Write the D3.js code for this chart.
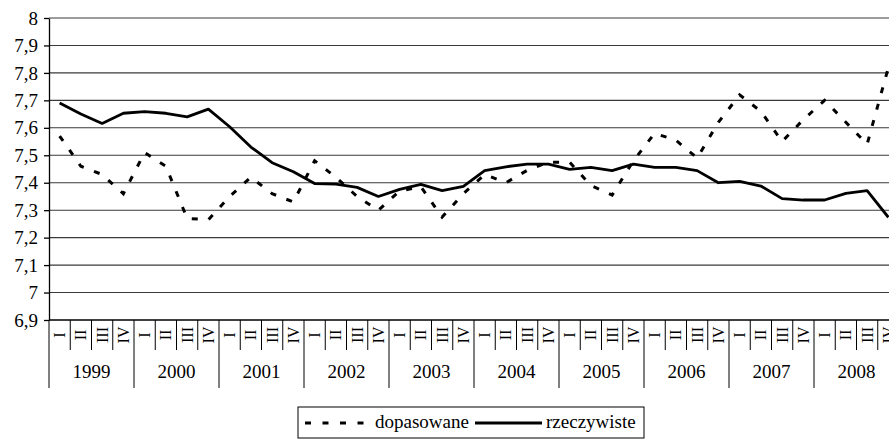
<!DOCTYPE html>
<html lang="pl">
<head>
<meta charset="utf-8">
<script src="https://d3js.org/d3.v7.min.js"></script>
<style>
  html, body { margin: 0; padding: 0; background: #fff; overflow: hidden; }
  svg { display: block; }
  svg text { font-family: "Liberation Serif", "Times New Roman", Tinos, "DejaVu Serif", serif; fill: #000; }
</style>
</head>
<body>
<div class="chart"></div>
<script>
// quarters and years on the category axis
const years = [1999, 2000, 2001, 2002, 2003, 2004, 2005, 2006, 2007, 2008];
const quarters = ['I', 'II', 'III', 'IV'];
const yTicks = [6.9, 7, 7.1, 7.2, 7.3, 7.4, 7.5, 7.6, 7.7, 7.8, 7.9, 8];

// fitted values (dashed)
const dopasowane = [
  7.57, 7.46, 7.43, 7.36, 7.51, 7.46, 7.27, 7.265, 7.35, 7.42,
  7.36, 7.33, 7.48, 7.42, 7.35, 7.30, 7.37, 7.385, 7.275, 7.36,
  7.43, 7.40, 7.445, 7.475, 7.475, 7.39, 7.355, 7.48, 7.58, 7.555,
  7.49, 7.62, 7.72, 7.66, 7.55, 7.63, 7.70, 7.62, 7.54, 7.82
];
// actual values (solid)
const rzeczywiste = [
  7.69, 7.65, 7.616, 7.653, 7.659, 7.653, 7.64, 7.668, 7.604, 7.53,
  7.473, 7.44, 7.397, 7.395, 7.383, 7.35, 7.376, 7.394, 7.371, 7.387,
  7.444, 7.458, 7.468, 7.468, 7.449, 7.456, 7.444, 7.468, 7.456, 7.456,
  7.444, 7.40, 7.405, 7.388, 7.342, 7.337, 7.337, 7.361, 7.371, 7.274
];

const W = 889, H = 439;
const margin = { left: 49, right: 899, top: 18, bottom: 320 };

const labels = [];
years.forEach(yr => quarters.forEach(q => labels.push(yr + '-' + q)));

const svg = d3.select('.chart')
  .append('svg')
  .attr('width', W)
  .attr('height', H);

const x = d3.scaleBand()
  .domain(labels)
  .range([margin.left, margin.right])
  .padding(0);

const y = d3.scaleLinear()
  .domain([6.9, 8])
  .range([margin.bottom, margin.top]);

const comma = d3.formatLocale({ decimal: ',', thousands: ' ', grouping: [3], currency: ['', ''] });
const fmt = v => comma.format('~g')(+v.toFixed(1));

// horizontal grid lines
svg.append('g')
  .selectAll('line')
  .data(yTicks.slice(1))
  .join('line')
  .attr('x1', margin.left)
  .attr('x2', margin.right)
  .attr('y1', d => y(d))
  .attr('y2', d => y(d))
  .attr('stroke', '#3a3a3a')
  .attr('stroke-width', 1.1);

// y axis
const yAxis = d3.axisLeft(y)
  .tickValues(yTicks)
  .tickSize(5)
  .tickSizeOuter(0)
  .tickPadding(6)
  .tickFormat(fmt);

svg.append('g')
  .attr('class', 'y-axis')
  .attr('transform', `translate(${margin.left},0)`)
  .call(yAxis)
  .attr('font-family', null)
  .attr('font-size', 19)
  .call(g => g.selectAll('line, path').attr('stroke', '#000').attr('stroke-width', 1.3));

// x axis baseline
svg.append('line')
  .attr('x1', margin.left).attr('x2', margin.right)
  .attr('y1', margin.bottom).attr('y2', margin.bottom)
  .attr('stroke', '#000').attr('stroke-width', 1.3);

// quarter separators (longer at year boundaries)
const bounds = labels.map(d => x(d)).concat([margin.right]);
svg.append('g')
  .selectAll('line')
  .data(bounds)
  .join('line')
  .attr('x1', d => d).attr('x2', d => d)
  .attr('y1', margin.bottom)
  .attr('y2', (d, i) => i % 4 === 0 ? 388 : 350)
  .attr('stroke', '#000')
  .attr('stroke-width', 1);

// quarter labels, rotated
svg.append('g')
  .selectAll('text')
  .data(labels)
  .join('text')
  .attr('transform', d => `translate(${x(d) + x.bandwidth() / 2 + 5.5},335) rotate(-90)`)
  .attr('text-anchor', 'middle')
  .attr('font-size', 16)
  .text(d => d.split('-')[1]);

// year labels
svg.append('g')
  .selectAll('text')
  .data(years)
  .join('text')
  .attr('x', d => x(d + '-I') + x.bandwidth() * 2)
  .attr('y', 378)
  .attr('text-anchor', 'middle')
  .attr('font-size', 19)
  .text(d => d);

const line = d3.line()
  .x((d, i) => x(labels[i]) + x.bandwidth() / 2)
  .y(d => y(d));

svg.append('path')
  .datum(dopasowane)
  .attr('d', line)
  .attr('fill', 'none')
  .attr('stroke', '#000')
  .attr('stroke-width', 3)
  .attr('stroke-dasharray', '6,11');

svg.append('path')
  .datum(rzeczywiste)
  .attr('d', line)
  .attr('fill', 'none')
  .attr('stroke', '#000')
  .attr('stroke-width', 2.8)
  .attr('stroke-linejoin', 'round');

// legend
const legend = svg.append('g');
legend.append('rect')
  .attr('x', 298).attr('y', 407)
  .attr('width', 346).attr('height', 31)
  .attr('fill', '#fff')
  .attr('stroke', '#000')
  .attr('stroke-width', 1);
legend.append('line')
  .attr('x1', 305).attr('x2', 371)
  .attr('y1', 423).attr('y2', 423)
  .attr('stroke', '#000').attr('stroke-width', 3)
  .attr('stroke-dasharray', '6,11.5');
legend.append('text')
  .attr('x', 375).attr('y', 428)
  .attr('font-size', 19)
  .text('dopasowane');
legend.append('line')
  .attr('x1', 475).attr('x2', 542)
  .attr('y1', 423).attr('y2', 423)
  .attr('stroke', '#000').attr('stroke-width', 2.8);
legend.append('text')
  .attr('x', 546).attr('y', 428)
  .attr('font-size', 19)
  .text('rzeczywiste');
</script>
</body>
</html>
